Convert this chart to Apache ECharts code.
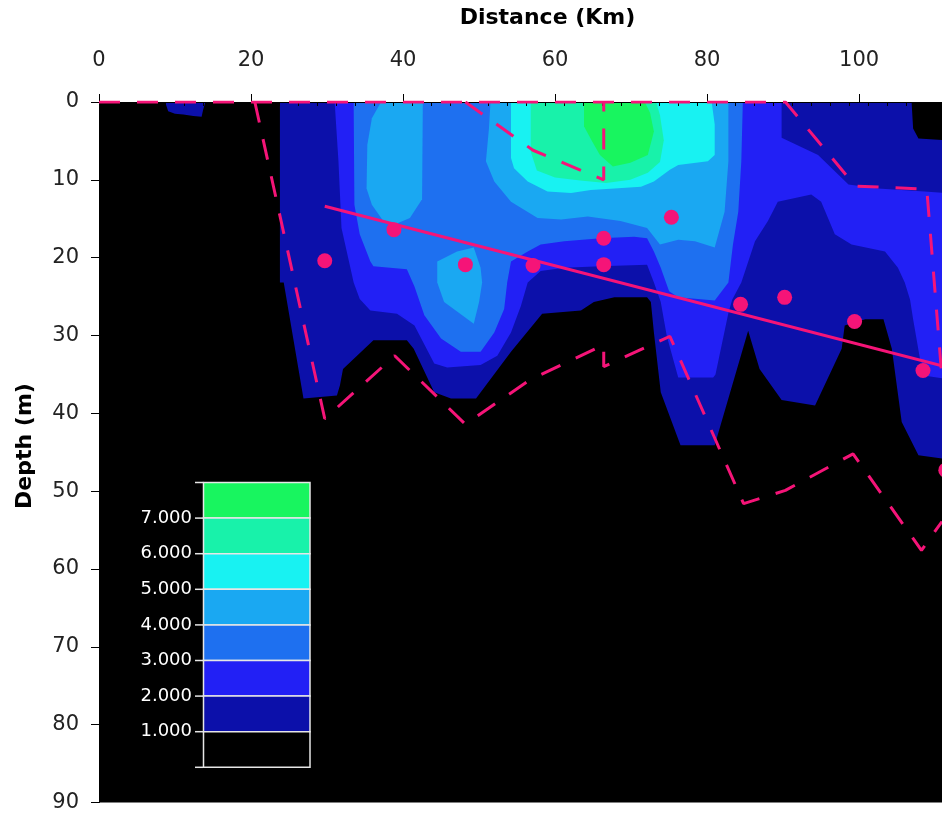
<!DOCTYPE html>
<html><head><meta charset="utf-8">
<script src="https://cdn.jsdelivr.net/npm/echarts@6/dist/echarts.min.js"></script>
<style>html,body{margin:0;padding:0;background:#fff}#c{width:942px;height:813px}</style>
</head><body><div id="c"></div>
<script>
// ---- axes / ticks ----
const xTickValues = [0, 20, 40, 60, 80, 100];
const yTickValues = [0, 10, 20, 30, 40, 50, 60, 70, 80, 90];
const xMinorTickValues = [];
for (let v = 1.25; v < 110.9; v += 2.5) xMinorTickValues.push(v);

// ---- contour levels ----
const levelColors = ['#0C10AA', '#2220F5', '#1E70F0', '#1AA8F2', '#18F2F2', '#18F2AA', '#18F55F'];
const legendLabels = ['7.000', '6.000', '5.000', '4.000', '3.000', '2.000', '1.000'];

// contour regions, vertices as [distance km, depth m]
const region1Main = [[23.8,0],[106.9,0],[107.1,3.4],[107.8,4.7],[111.5,4.9],[111.5,45.9],[107.8,45.4],[105.6,41.1],[104.3,31.7],[103.2,27.9],[100.8,27.9],[98.1,28.7],[97.7,31.7],[94.2,39.0],[89.8,38.3],[86.9,34.3],[85.4,29.4],[81.0,44.1],[76.5,44.1],[73.9,37.3],[73.0,29.6],[72.6,25.7],[72.1,25.1],[67.8,25.1],[65.1,25.7],[63.4,26.8],[58.3,27.2],[54.2,32.1],[49.6,38.1],[46.3,38.1],[44.1,37.3],[41.4,31.7],[40.5,30.6],[36.1,30.6],[32.1,34.3],[31.7,36.4],[31.3,37.7],[26.9,38.1],[24.3,23.2],[23.8,23.2]];
const region1Blob = [[8.7,0],[14.0,0],[13.7,1.0],[13.5,1.9],[12.4,1.8],[11.1,1.6],[10.0,1.5],[9.1,1.2]];
const region2 = [[31.0,0],[89.8,0],[89.8,4.6],[94.6,6.8],[98.6,10.6],[102.5,11.1],[108.6,11.5],[111.5,11.7],[111.5,35.6],[108.9,35.2],[108.0,33.0],[107.1,27.9],[106.7,25.4],[106.0,23.2],[105.1,21.3],[103.4,19.2],[99.0,18.3],[96.8,17.0],[95.0,12.8],[93.7,11.9],[89.3,12.8],[88.0,15.3],[86.3,17.9],[84.5,23.2],[83.3,25.4],[82.8,27.1],[81.1,35.0],[80.8,35.4],[76.2,35.4],[74.7,30.1],[73.9,25.7],[73.0,23.2],[72.1,20.9],[66.0,21.1],[61.2,21.3],[58.1,21.7],[56.4,23.2],[55.5,26.2],[54.2,29.6],[52.4,32.6],[50.2,33.8],[45.8,34.1],[44.1,33.6],[41.5,28.7],[39.2,27.2],[35.7,26.8],[34.3,25.3],[33.5,23.2],[31.9,16.2],[31.5,7.6]];
const region3 = [[33.5,0],[84.7,0],[84.5,7.6],[84.1,14.1],[83.4,18.3],[82.8,23.2],[81.0,25.5],[76.2,25.1],[75.0,24.3],[73.9,21.3],[73.0,19.2],[72.1,17.5],[70.4,17.3],[66.0,17.5],[61.2,17.9],[58.1,18.3],[56.4,19.2],[54.2,20.5],[53.7,23.2],[53.3,26.6],[52.0,29.6],[50.2,32.1],[47.6,32.1],[45.0,30.4],[42.8,27.4],[41.5,23.7],[40.5,21.5],[36.1,21.1],[35.7,20.5],[34.3,17.0],[33.6,13.2]];
const region4West = [[37.1,0],[42.6,0],[42.5,12.5],[40.9,14.9],[39.2,15.6],[37.4,15.3],[35.9,13.2],[35.2,11.1],[35.3,5.5],[35.9,2.1]];
const region4Core = [[51.5,0],[82.8,0],[82.8,7.6],[82.3,14.1],[81.0,18.7],[78.4,17.9],[76.2,17.7],[73.8,18.3],[72.1,16.2],[68.6,15.3],[64.3,14.7],[60.8,15.1],[57.7,14.9],[54.2,12.8],[52.0,10.2],[50.9,7.6],[51.3,3.4]];
const region4Blob = [[44.5,20.5],[47.1,19.2],[49.3,18.7],[50.2,21.3],[50.4,23.2],[50.0,25.7],[49.3,28.5],[45.4,25.7],[44.5,23.2]];
const region5 = [[54.2,0],[80.6,0],[81.0,2.9],[81.0,6.8],[80.1,7.6],[76.2,8.1],[75.1,8.7],[73.0,10.2],[71.3,10.9],[67.8,11.1],[64.7,11.3],[62.1,11.7],[59.0,11.5],[56.4,10.2],[54.6,8.5],[54.2,7.2]];
const region6 = [[56.8,0],[73.3,0],[73.8,1.7],[74.3,4.9],[73.8,7.7],[72.2,9.1],[69.9,10.0],[66.7,10.4],[63.3,10.1],[60.0,9.7],[57.6,8.8],[56.8,6.4]];
const region7 = [[63.8,0],[71.8,0],[72.5,1.4],[73.0,3.8],[72.2,6.8],[69.9,7.8],[67.6,8.3],[65.9,6.8],[64.9,5.1],[63.8,3.1]];

// overlays
const stationPoints = [[29.7,20.4],[38.8,16.4],[48.2,20.9],[57.1,21.0],[66.4,17.5],[66.4,20.9],[75.3,14.8],[84.4,26.0],[90.2,25.1],[99.4,28.2],[108.4,34.5],[111.4,47.3]];
const trendLine = [[29.7,13.4],[110.9,33.9]];
const dashSurface = [[0,0],[90.3,0],[99.5,10.8],[108.9,11.2],[110.9,35.5]];
const dashBottom = [[20.5,0],[29.7,40.7],[38.9,32.6],[48.2,41.4],[56.7,35.7],[66.4,31.2],[66.4,34.0],[75.1,30.1],[84.8,51.6],[90.3,49.9],[99.2,45.2],[108.2,57.6],[110.9,53.9]];
const dashWedge = [[48.2,0],[57.1,6.2],[66.4,10.0],[66.4,0]];

const MAGENTA = '#F51478';
const FONT = 'DejaVu Sans';

const regions = [
  { level: 1, pts: region1Main }, { level: 1, pts: region1Blob },
  { level: 2, pts: region2 }, { level: 3, pts: region3 },
  { level: 4, pts: region4West }, { level: 4, pts: region4Core }, { level: 4, pts: region4Blob },
  { level: 5, pts: region5 }, { level: 6, pts: region6 }, { level: 7, pts: region7 }
];

const chart = echarts.init(document.getElementById('c'), null, { renderer: 'canvas' });

const dashStyle = { color: MAGENTA, width: 3, type: [21, 17], cap: 'butt', opacity: 1 };
function dashSeries(data) {
  return { type: 'line', data: data, symbol: 'none', lineStyle: dashStyle, z: 5, silent: true, clip: true, animation: false };
}

// legend graphic
const legendLeft = 203.5, legendTop = 482.5, legendW = 106.5, bandH = 35.6;
const legendFill = levelColors.slice().reverse().concat(['#000000']);
const graphics = [];
legendFill.forEach((c, i) => {
  graphics.push({ type: 'rect', z: 100, shape: { x: legendLeft, y: legendTop + i * bandH, width: legendW, height: bandH },
    style: { fill: c, stroke: '#e6e6e6', lineWidth: 1.5 } });
});
for (let i = 0; i <= legendFill.length; i++) {
  graphics.push({ type: 'line', z: 100, shape: { x1: 195, y1: legendTop + i * bandH, x2: legendLeft, y2: legendTop + i * bandH },
    style: { stroke: '#e6e6e6', lineWidth: 1.5 } });
}
legendLabels.forEach((t, i) => {
  graphics.push({ type: 'text', z: 100, x: 192, y: legendTop + (i + 1) * bandH,
    style: { text: t, fill: '#ffffff', font: '18px "' + FONT + '"', textAlign: 'right', textVerticalAlign: 'middle', align: 'right', verticalAlign: 'middle' } });
});
graphics.push({ type: 'text', z: 100, x: 547.5, y: 18,
  style: { text: 'Distance (Km)', fill: '#000', font: 'bold 22px "' + FONT + '"', textAlign: 'center', textVerticalAlign: 'middle', align: 'center', verticalAlign: 'middle' } });
graphics.push({ type: 'text', z: 100, x: 25, y: 446, rotation: Math.PI / 2,
  style: { text: 'Depth (m)', fill: '#000', font: 'bold 22px "' + FONT + '"', textAlign: 'center', textVerticalAlign: 'middle', align: 'center', verticalAlign: 'middle' } });

const option = {
  animation: false,
  backgroundColor: '#ffffff',
  grid: { left: 99, right: 0, top: 102, bottom: 8, show: true, backgroundColor: '#000000', borderWidth: 0 },
  xAxis: [
    { type: 'value', position: 'top', min: 0, max: 110.9, z: 3,
      axisLine: { show: true, lineStyle: { color: '#000', width: 1 } },
      axisTick: { show: true, inside: false, length: 8, customValues: xTickValues, lineStyle: { color: '#000', width: 1 } },
      axisLabel: { show: true, customValues: xTickValues, margin: 31, color: '#222', fontFamily: FONT, fontSize: 21 },
      splitLine: { show: false } },
    { type: 'value', position: 'top', min: 0, max: 110.9, z: 3,
      axisLine: { show: false },
      axisTick: { show: true, inside: true, length: 4, customValues: xMinorTickValues, lineStyle: { color: '#000', width: 1 } },
      axisLabel: { show: false },
      splitLine: { show: false } }
  ],
  yAxis: { type: 'value', inverse: true, min: 0, max: 90, interval: 10, z: 3,
    axisLine: { show: true, lineStyle: { color: '#000', width: 1 } },
    axisTick: { show: true, length: 8, customValues: yTickValues, lineStyle: { color: '#000', width: 1 } },
    axisLabel: { customValues: yTickValues, margin: 20, color: '#222', fontFamily: FONT, fontSize: 21 },
    splitLine: { show: false } },
  graphic: graphics,
  series: [
    { type: 'custom', coordinateSystem: 'cartesian2d', xAxisIndex: 0, clip: true, silent: true, z: 1,
      data: regions.map((r, i) => [r.pts[0][0], r.pts[0][1], i]),
      encode: { x: 0, y: 1 },
      renderItem: function (params, api) {
        const r = regions[params.dataIndex];
        return { type: 'polygon', shape: { points: r.pts.map(p => api.coord(p)) },
          style: { fill: levelColors[r.level - 1], stroke: null } };
      } },
    dashSeries(dashSurface),
    dashSeries(dashBottom),
    dashSeries(dashWedge),
    { type: 'line', data: trendLine, symbol: 'none', lineStyle: { color: MAGENTA, width: 3, opacity: 1 }, z: 6, silent: true, clip: true },
    { type: 'scatter', data: stationPoints, symbol: 'circle', symbolSize: 15, itemStyle: { color: MAGENTA, opacity: 1 }, z: 7, silent: true, clip: false }
  ]
};
chart.setOption(option);
</script>
</body></html>
